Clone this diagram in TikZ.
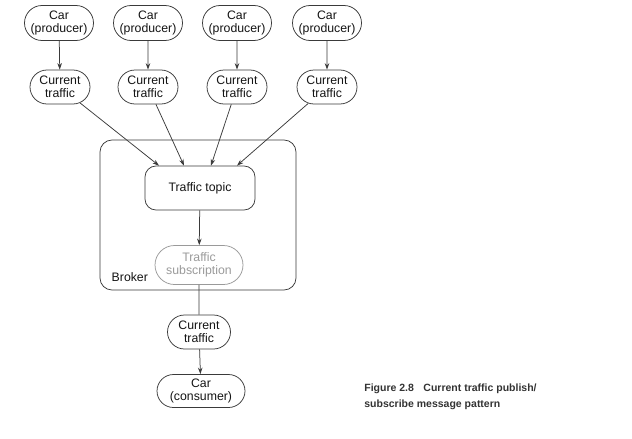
\documentclass[tikz,border=0pt]{standalone}
\usepackage{fontspec}
\setmainfont{Liberation Sans}
\usetikzlibrary{shapes.misc,arrows.meta,positioning}
\definecolor{linegray}{HTML}{3A3A3A}
\definecolor{subgray}{HTML}{9A9A9A}
\tikzset{
  pill/.style={draw=linegray, rounded rectangle, align=center, inner sep=2pt,
    font=\fontsize{12.3}{13}\selectfont, text=black!92},
  car/.style={pill, minimum width=73pt, minimum height=35pt},
  traffic/.style={pill, minimum width=64pt, minimum height=34pt},
  arr/.style={-{Stealth[length=6.5pt,width=4.5pt]}, draw=linegray}
}
\begin{document}
\begin{tikzpicture}[x=1pt, y=-1pt, line width=0.75pt]
        \useasboundingbox (0,0) rectangle (632,439);
        % producers
        \node[car] (car1) at (59,23) {Car\\(producer)};
        \node[car] (car2) at (148,23) {Car\\(producer)};
        \node[car] (car3) at (237,23) {Car\\(producer)};
        \node[car] (car4) at (327,23) {Car\\(producer)};
        \node[traffic] (ct1) at (60,87) {Current\\traffic};
        \node[traffic] (ct2) at (148,87) {Current\\traffic};
        \node[traffic] (ct3) at (237,87) {Current\\traffic};
        \node[traffic] (ct4) at (327,87) {Current\\traffic};
        \foreach \i in {1,...,4}
          \draw[arr] (car\i) -- (ct\i);
        % broker
        \node[draw=linegray, rounded corners=12pt, minimum width=196pt, minimum height=150pt] (broker) at (198,215) {};
        \node[anchor=base west, font=\fontsize{12.3}{13}\selectfont, text=black!92] (brokerlabel) at (108,281) {Broker};
        \node[draw=linegray, rounded corners=11pt, minimum width=110pt, minimum height=44pt,
          font=\fontsize{12.3}{13}\selectfont, text=black!92] (topic) at (200,188) {Traffic topic};
        \node[pill, draw=subgray, text=subgray, minimum width=92pt, minimum height=39pt] (sub) at (199,265) {Traffic\\subscription};
        \draw[arr] (ct1) -- ([xshift=-41pt]topic.north);
        \draw[arr] (ct2) -- ([xshift=-16pt]topic.north);
        \draw[arr] (ct3) -- ([xshift=11pt]topic.north);
        \draw[arr] (ct4) -- ([xshift=37pt]topic.north);
        \draw[arr] (topic) -- (sub);
        % consumer
        \node[traffic, minimum width=67pt] (ct5) at (199,332) {Current\\traffic};
        \node[car, minimum width=92pt, minimum height=33pt] (car5) at (201,391) {Car\\(consumer)};
        \draw[draw=linegray] (sub) -- (ct5);
        \draw[arr] (ct5) -- (car5);
        % caption
        \node[anchor=north west, align=left, inner sep=0pt, font=\fontsize{10.5}{15.5}\selectfont\bfseries, text=black!80] (caption) at (364,384)
          {Figure 2.8\hspace{0.9em}Current traffic publish/\\subscribe message pattern};
      \end{tikzpicture}
\end{document}
